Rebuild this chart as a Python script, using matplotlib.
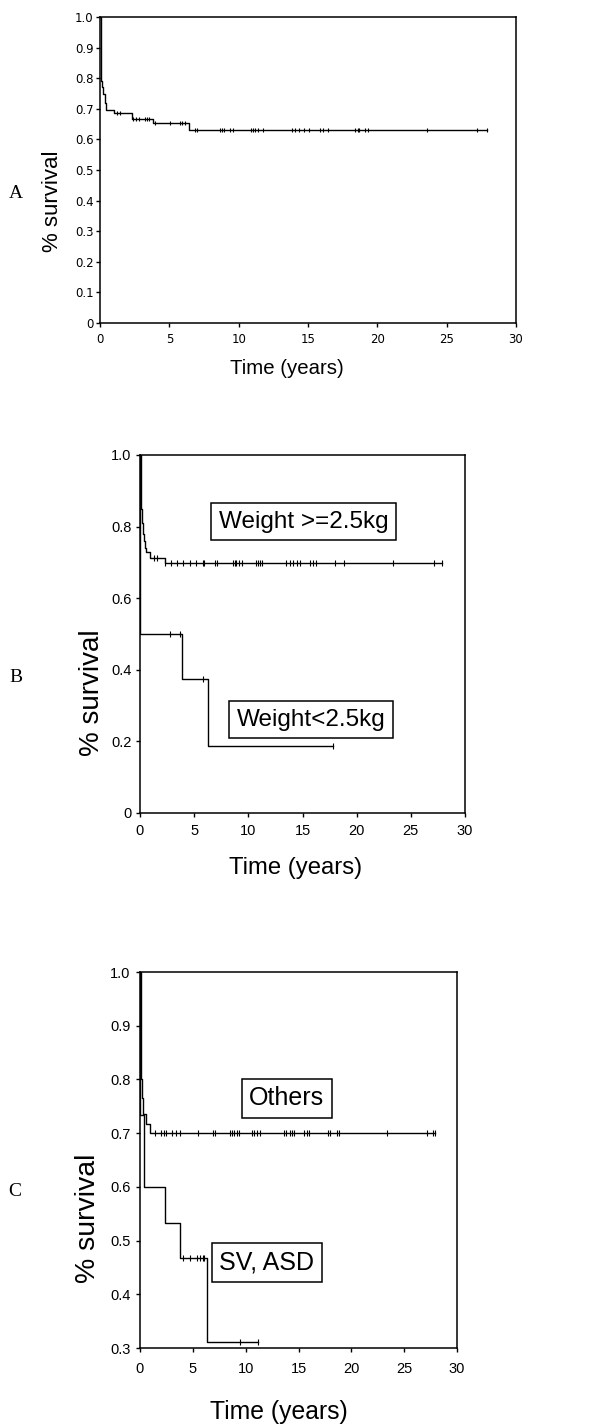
import numpy as np
import matplotlib.pyplot as plt

# --- data ---
# A: whole cohort
a_time = [0, 0.05, 0.15, 0.25, 0.35, 0.45, 1.0, 2.28, 3.79, 6.4]
a_surv = [1.0, 0.79, 0.77, 0.75, 0.72, 0.695, 0.685, 0.668, 0.652, 0.632]
a_end = 27.9
a_cens = [1.25, 1.42, 2.39, 2.6, 2.78, 3.25, 3.4, 3.53, 4.0, 5.08, 5.77, 5.94, 6.16,
          6.85, 6.98, 8.64, 8.79, 8.92, 9.35, 9.57, 10.9, 11.0, 11.16, 11.4, 11.78,
          13.83, 14.05, 14.37, 14.69, 15.08, 15.88, 16.1, 16.42, 18.36, 18.57, 18.68,
          19.11, 19.33, 23.6, 27.2, 27.9]

# B: weight >= 2.5kg / weight < 2.5kg
b_hi_time = [0, 0.05, 0.15, 0.25, 0.35, 0.45, 0.55, 0.9, 2.3]
b_hi_surv = [1.0, 0.85, 0.81, 0.78, 0.76, 0.74, 0.73, 0.713, 0.697]
b_hi_end = 27.86
b_hi_cens = [1.3, 1.55, 2.35, 2.82, 3.37, 4.0, 4.6, 5.2, 5.78, 5.95, 6.93, 7.12,
             8.57, 8.73, 8.9, 9.1, 9.4, 10.7, 10.87, 11.05, 11.25, 13.5, 13.8,
             14.1, 14.45, 14.8, 15.7, 16.0, 16.2, 18.0, 18.8, 23.4, 27.1, 27.86]
b_lo_time = [0, 0.01, 3.85, 6.3]
b_lo_surv = [1.0, 0.5, 0.375, 0.1875]
b_lo_end = 17.85
b_lo_cens = [2.77, 3.7, 5.85, 17.85]

# C: others / SV, ASD
c_oth_time = [0, 0.05, 0.15, 0.25, 0.55, 0.9]
c_oth_surv = [1.0, 0.8, 0.765, 0.735, 0.717, 0.70]
c_oth_end = 27.9
c_oth_cens = [1.42, 1.99, 2.3, 2.5, 3.07, 3.45, 3.8, 5.5, 6.94, 7.1, 8.5, 8.73,
              8.92, 9.14, 9.4, 10.6, 10.8, 11.04, 11.36, 13.6, 13.8, 14.2, 14.4,
              14.6, 15.5, 15.77, 16.0, 17.8, 18.0, 18.6, 18.86, 23.4, 27.2,
              27.7, 27.9]
c_sv_time = [0, 0.02, 0.38, 2.37, 3.78, 6.3]
c_sv_surv = [1.0, 0.733, 0.6, 0.533, 0.467, 0.311]
c_sv_end = 11.13
c_sv_cens = [4.05, 4.75, 5.35, 5.7, 5.95, 6.1, 9.5, 11.13]

a_yticks = [0, 0.1, 0.2, 0.3, 0.4, 0.5, 0.6, 0.7, 0.8, 0.9, 1.0]
a_ylabels = ['0', '0.1', '0.2', '0.3', '0.4', '0.5', '0.6', '0.7', '0.8', '0.9', '1.0']
b_yticks = [0, 0.2, 0.4, 0.6, 0.8, 1.0]
b_ylabels = ['0', '0.2', '0.4', '0.6', '0.8', '1.0']
c_yticks = [0.3, 0.4, 0.5, 0.6, 0.7, 0.8, 0.9, 1.0]
c_ylabels = ['0.3', '0.4', '0.5', '0.6', '0.7', '0.8', '0.9', '1.0']
xticks = [0, 5, 10, 15, 20, 25, 30]

W, H = 597, 1425
fig = plt.figure(figsize=(W / 100, H / 100), dpi=100)


def px_axes(x0, x1, y0, y1):
    # pixel box (top-left origin) -> axes
    return fig.add_axes([x0 / W, 1 - y1 / H, (x1 - x0) / W, (y1 - y0) / H])


def px_text(x, y, s, **kw):
    fig.text(x / W, 1 - y / H, s, ha='center', va='center', **kw)


def km(ax, t, s, t_end, cens, ms):
    x = np.append(t, t_end)
    y = np.append(s, s[-1])
    ax.step(x, y, where='post', color='black', lw=1.0)
    idx = np.searchsorted(t, cens, side='right') - 1
    ax.plot(cens, np.asarray(s)[idx], ls='none', marker='|', color='black',
            ms=ms, mew=0.8)


def style(ax, yticks, ylabels, ylim, fs, xpad, ypad, family):
    ax.set_xlim(0, 30)
    ax.set_ylim(*ylim)
    ax.set_xticks(xticks)
    ax.set_xticklabels([str(v) for v in xticks])
    ax.set_yticks(yticks)
    ax.set_yticklabels(ylabels)
    ax.tick_params(direction='out', length=3, width=1, labelsize=fs)
    ax.tick_params(axis='x', pad=xpad)
    ax.tick_params(axis='y', pad=ypad)
    for lab in ax.get_xticklabels() + ax.get_yticklabels():
        lab.set_family(family)
    for sp in ax.spines.values():
        sp.set_linewidth(1.1)


box = dict(boxstyle='square,pad=0.3', fc='white', ec='black', lw=1.1)

# A
ax = px_axes(100, 516, 17, 323)
km(ax, a_time, a_surv, a_end, a_cens, 3.5)
style(ax, a_yticks, a_ylabels, (0, 1), 8.5, 4, 1.5, 'DejaVu Sans')
px_text(16, 193, 'A', family='Liberation Serif', fontsize=14)
px_text(52, 201, '% survival', family='Liberation Sans', fontsize=16, rotation=90)
px_text(287, 368, 'Time (years)', family='Liberation Sans', fontsize=14.7)

# B
ax = px_axes(140, 465, 455, 813)
km(ax, b_hi_time, b_hi_surv, b_hi_end, b_hi_cens, 4.5)
km(ax, b_lo_time, b_lo_surv, b_lo_end, b_lo_cens, 4.5)
style(ax, b_yticks, b_ylabels, (0, 1), 10.5, 5, 3, 'Liberation Sans')
ax.text(15.1, 0.814, 'Weight >=2.5kg', ha='center', va='center', fontsize=17.5,
        family='Liberation Sans', bbox=box)
ax.text(15.8, 0.261, 'Weight<2.5kg', ha='center', va='center', fontsize=17.5,
        family='Liberation Sans', bbox=box)
px_text(16, 678, 'B', family='Liberation Serif', fontsize=14)
px_text(92, 693, '% survival', family='Liberation Sans', fontsize=20, rotation=90)
px_text(296, 868, 'Time (years)', family='Liberation Sans', fontsize=17.2)

# C
ax = px_axes(140, 457, 972, 1348)
km(ax, c_oth_time, c_oth_surv, c_oth_end, c_oth_cens, 4.5)
km(ax, c_sv_time, c_sv_surv, c_sv_end, c_sv_cens, 4.5)
style(ax, c_yticks, c_ylabels, (0.3, 1.0), 10.5, 7, 4, 'Liberation Sans')
ax.text(13.9, 0.765, 'Others', ha='center', va='center', fontsize=18,
        family='Liberation Sans', bbox=box)
ax.text(12.0, 0.46, 'SV, ASD', ha='center', va='center', fontsize=18,
        family='Liberation Sans', bbox=box)
px_text(15, 1192, 'C', family='Liberation Serif', fontsize=14)
px_text(88, 1218, '% survival', family='Liberation Sans', fontsize=20.5, rotation=90)
px_text(279, 1412, 'Time (years)', family='Liberation Sans', fontsize=17.8)

fig.savefig('out.png', dpi=100)
